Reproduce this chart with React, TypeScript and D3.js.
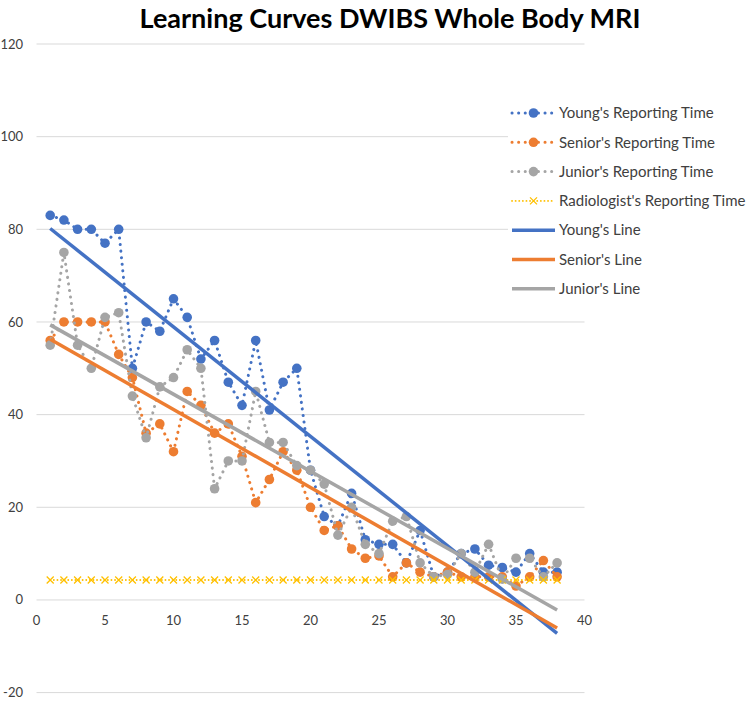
import React from "react";
import * as d3 from "d3";

// case number (x axis categories)
const cases = [1, 2, 3, 4, 5, 6, 7, 8, 9, 10, 11, 12, 13, 14, 15, 16, 17, 18, 19, 20,
    21, 22, 23, 24, 25, 26, 27, 28, 29, 30, 31, 32, 33, 34, 35, 36, 37, 38];

// reporting times (minutes)
const youngTimes = [83, 82, 80, 80, 77, 80, 50, 60, 58, 65, 61, 52, 56, 47, 42, 56, 41, 47, 50, 28,
    18, 16, 23, 13, 12, 12, 8, 15, 5, 6, 10, 11, 7.5, 7, 6, 10, 6, 6];
const seniorTimes = [56, 60, 60, 60, 60, 53, 48, 36, 38, 32, 45, 42, 36, 38, 31, 21, 26, 32, 28, 20,
    15, 16, 11, 9, 9.5, 5, 8, 6, 5, 6, 5, 5, 5, 5, 3, 5, 8.5, 5];
const juniorTimes = [55, 75, 55, 50, 61, 62, 44, 35, 46, 48, 54, 50, 24, 30, 30, 45, 34, 34, 29, 28,
    25, 14, 20, 12, 10, 17, 18, 8, 5, 5.5, 10, 6, 12, 4.5, 9, 9, 5, 8];
const radiologistTimes = [4.3, 4.3, 4.3, 4.3, 4.3, 4.3, 4.3, 4.3, 4.3, 4.3, 4.3, 4.3, 4.3, 4.3, 4.3,
    4.3, 4.3, 4.3, 4.3, 4.3, 4.3, 4.3, 4.3, 4.3, 4.3, 4.3, 4.3, 4.3, 4.3, 4.3, 4.3, 4.3, 4.3, 4.3,
    4.3, 4.3, 4.3, 4.3];

const yTicks = [-20, 0, 20, 40, 60, 80, 100, 120];
const xTicks = [0, 5, 10, 15, 20, 25, 30, 35, 40];

const BLUE = "#4472C4";
const ORANGE = "#ED7D31";
const GRAY = "#A5A5A5";
const YELLOW = "#FFC000";
const FONT = "Lato, 'Open Sans', sans-serif";

// least squares fit, like Excel's linear trendline
function linearFit(xs: number[], ys: number[]) {
    const mx = d3.mean(xs) as number;
    const my = d3.mean(ys) as number;
    let num = 0;
    let den = 0;
    xs.forEach((x, i) => {
        num += (x - mx) * (ys[i] - my);
        den += (x - mx) * (x - mx);
    });
    const slope = num / den;
    return (x: number) => my + slope * (x - mx);
}

const dotted = { strokeWidth: 3, strokeDasharray: "0.1 6.5", strokeLinecap: "round" as const };

function XMark({ cx, cy, size, color }: { cx: number; cy: number; size: number; color: string }) {
    const s = size / 2;
    return (
        <path d={`M${cx - s},${cy - s}L${cx + s},${cy + s}M${cx - s},${cy + s}L${cx + s},${cy - s}`}
            stroke={color} strokeWidth={1.3} fill="none" />
    );
}

export default function App() {
    const width = 751;
    const height = 702;

    const x = d3.scaleLinear().domain([0, 40]).range([36.5, 584.5]);
    const y = d3.scaleLinear().domain([-20, 120]).range([692.6, 44]);

    const line = d3.line<number>()
        .x((d, i) => x(cases[i]))
        .y((d) => y(d));

    const series = [
        { name: "Young's Reporting Time", values: youngTimes, color: BLUE },
        { name: "Senior's Reporting Time", values: seniorTimes, color: ORANGE },
        { name: "Junior's Reporting Time", values: juniorTimes, color: GRAY },
    ];

    const first = cases[0];
    const last = cases[cases.length - 1];
    const trends = [
        { name: "Young's Line", fit: linearFit(cases, youngTimes), color: BLUE },
        { name: "Senior's Line", fit: linearFit(cases, seniorTimes), color: ORANGE },
        { name: "Junior's Line", fit: linearFit(cases, juniorTimes), color: GRAY },
    ];

    const legendX = 512;
    const legendY0 = 113;
    const legendStep = 29.3;

    return (
        <svg width={width} height={height} style={{ position: "absolute", left: 0, top: 0, background: "#fff" }}
            fontFamily={FONT}>
            <text x={390} y={28} textAnchor="middle" fontSize={27} fontWeight="bold" fill="#000">
                Learning Curves DWIBS Whole Body MRI
            </text>

            {/* gridlines */}
            {yTicks.map((t) => (
                <g key={t}>
                    <line x1={x(0)} x2={x(40)} y1={y(t)} y2={y(t)} stroke="#D9D9D9" strokeWidth={1} />
                    <text x={23} y={y(t)} dy="0.35em" textAnchor="end" fontSize={13} fill="#404040">{t}</text>
                </g>
            ))}
            {xTicks.map((t) => (
                <text key={t} x={x(t)} y={625} textAnchor="middle" fontSize={13} fill="#404040">{t}</text>
            ))}

            {/* reporting time series */}
            {series.map((s) => (
                <g key={s.name}>
                    <path d={line(s.values) as string} fill="none" stroke={s.color} {...dotted} />
                    {s.values.map((v, i) => (
                        <circle key={i} cx={x(cases[i])} cy={y(v)} r={4.8} fill={s.color} />
                    ))}
                </g>
            ))}
            <g>
                <path d={line(radiologistTimes) as string} fill="none" stroke={YELLOW}
                    strokeWidth={1.8} strokeDasharray="0.1 3.5" strokeLinecap="round" />
                {radiologistTimes.map((v, i) => (
                    <XMark key={i} cx={x(cases[i])} cy={y(v)} size={7} color={YELLOW} />
                ))}
            </g>

            {/* trendlines */}
            {trends.map((t) => (
                <line key={t.name} x1={x(first)} y1={y(t.fit(first))} x2={x(last)} y2={y(t.fit(last))}
                    stroke={t.color} strokeWidth={3.5} />
            ))}

            {/* legend */}
            <rect x={legendX - 4} y={legendY0 - 14} width={width - legendX + 4} height={legendStep * 7}
                fill="#fff" />
            {series.map((s, i) => {
                const ly = legendY0 + i * legendStep;
                return (
                    <g key={s.name}>
                        <line x1={legendX} x2={legendX + 43} y1={ly} y2={ly} stroke={s.color} {...dotted} />
                        <circle cx={legendX + 21.5} cy={ly} r={4.8} fill={s.color} />
                        <text x={legendX + 47} y={ly} dy="0.35em" fontSize={15} fill="#404040">{s.name}</text>
                    </g>
                );
            })}
            {(() => {
                const ly = legendY0 + 3 * legendStep;
                return (
                    <g>
                        <line x1={legendX} x2={legendX + 43} y1={ly} y2={ly} stroke={YELLOW}
                            strokeWidth={1.8} strokeDasharray="0.1 3.5" strokeLinecap="round" />
                        <XMark cx={legendX + 21.5} cy={ly} size={7} color={YELLOW} />
                        <text x={legendX + 47} y={ly} dy="0.35em" fontSize={15} fill="#404040">
                            Radiologist's Reporting Time
                        </text>
                    </g>
                );
            })()}
            {trends.map((t, i) => {
                const ly = legendY0 + (4 + i) * legendStep;
                return (
                    <g key={t.name}>
                        <line x1={legendX} x2={legendX + 43} y1={ly} y2={ly} stroke={t.color} strokeWidth={3.5} />
                        <text x={legendX + 47} y={ly} dy="0.35em" fontSize={15} fill="#404040">{t.name}</text>
                    </g>
                );
            })}
        </svg>
    );
}
